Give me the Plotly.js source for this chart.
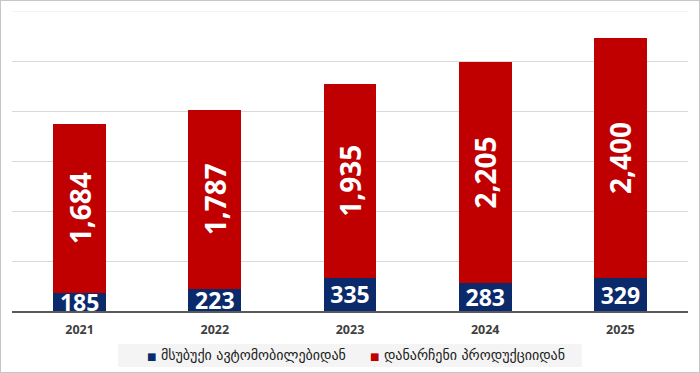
<!DOCTYPE html>
<html>
<head>
<meta charset="utf-8">
<script src="https://cdn.plot.ly/plotly-3.0.1.min.js"></script>
<style>
  html, body { margin: 0; padding: 0; background: #ffffff; }
  #wrap { position: relative; width: 700px; height: 373px; }
  #chart { width: 700px; height: 373px; }
  #frame { position: absolute; left: 0; top: 0; width: 700px; height: 373px; box-sizing: border-box; border: 1px solid #c6c6c6; pointer-events: none; }
</style>
</head>
<body>
<div id="wrap"><div id="chart"></div><div id="frame"></div></div>
<script>
const years = ['2021', '2022', '2023', '2024', '2025'];
const carValues = [185, 223, 335, 283, 329];
const otherValues = [1684, 1787, 1935, 2205, 2400];
const seriesNames = ['მსუბუქი ავტომობილებიდან', 'დანარჩენი პროდუქციიდან'];
const seriesColors = ['#0b2a6b', '#c00000'];
const gridValues = [500, 1000, 1500, 2000, 2500];
const topValue = 3000;

const labelFont = 'Open Sans, Liberation Sans, sans-serif';
const legendFont = 'DejaVu Sans, sans-serif';

const traces = [
  {
    type: 'bar', x: years, y: carValues, name: seriesNames[0],
    marker: { color: seriesColors[0] },
    texttemplate: '%{y}', textposition: 'inside', insidetextanchor: 'middle',
    constraintext: 'none', textangle: 0,
    textfont: { family: labelFont, size: 23, color: '#ffffff', weight: 'bold' },
    showlegend: false, hoverinfo: 'skip'
  },
  {
    type: 'bar', x: years, y: otherValues, name: seriesNames[1],
    marker: { color: seriesColors[1] },
    texttemplate: '%{y:,}', textposition: 'inside', insidetextanchor: 'middle',
    constraintext: 'none', textangle: -90,
    textfont: { family: labelFont, size: 28, color: '#ffffff', weight: 'bold' },
    showlegend: false, hoverinfo: 'skip'
  }
];

// legend drawn as annotations with coloured squares
const legendX = [0.197, 0.527];
const annotations = seriesNames.map((n, i) => ({
  xref: 'paper', yref: 'paper', x: legendX[i], y: -0.148,
  xanchor: 'left', yanchor: 'middle', showarrow: false,
  text: '<span style="color:' + seriesColors[i] + ';font-size:10px">■</span> ' + n,
  font: { family: legendFont, size: 14, color: '#1a1a1a' }
}));

const layout = {
  width: 700, height: 373,
  margin: { l: 12, r: 12, t: 11, b: 62 },
  paper_bgcolor: '#ffffff', plot_bgcolor: '#ffffff',
  barmode: 'stack', bargap: 0.61,
  showlegend: false,
  xaxis: {
    type: 'category', showgrid: false, zeroline: false,
    showline: true, linecolor: '#595959', linewidth: 1.5,
    ticks: '', ticklabelstandoff: 6,
    tickfont: { family: labelFont, size: 12.5, color: '#404040', weight: 'bold' }
  },
  yaxis: {
    range: [0, topValue], showticklabels: false, zeroline: false,
    tickmode: 'array', tickvals: gridValues,
    showgrid: true, gridcolor: '#d9d9d9', gridwidth: 1, ticks: ''
  },
  shapes: [
    { type: 'line', xref: 'paper', yref: 'y', x0: 0, x1: 1, y0: topValue, y1: topValue,
      line: { color: '#efefef', width: 1.5 }, layer: 'below' },
    { type: 'rect', xref: 'paper', yref: 'paper', x0: 0.157, x1: 0.843, y0: -0.187, y1: -0.11,
      fillcolor: '#f4f4f4', line: { width: 0 }, layer: 'below' }
  ],
  annotations: annotations
};

Plotly.newPlot('chart', traces, layout, { displayModeBar: false, staticPlot: true });
</script>
</body>
</html>
